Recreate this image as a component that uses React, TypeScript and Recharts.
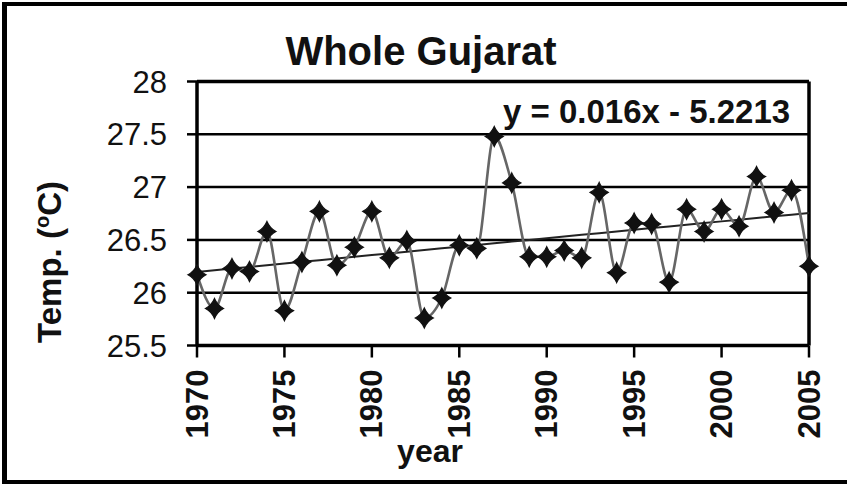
import React from "react"
import { ComposedChart, Line, XAxis, YAxis, CartesianGrid, ReferenceLine } from "recharts"

const years = [
  1970, 1971, 1972, 1973, 1974, 1975, 1976, 1977, 1978, 1979, 1980, 1981,
  1982, 1983, 1984, 1985, 1986, 1987, 1988, 1989, 1990, 1991, 1992, 1993,
  1994, 1995, 1996, 1997, 1998, 1999, 2000, 2001, 2002, 2003, 2004, 2005,
]
const temps = [
  26.17, 25.85, 26.23, 26.2, 26.58, 25.83, 26.29, 26.77, 26.26, 26.43, 26.77, 26.33,
  26.49, 25.76, 25.95, 26.45, 26.42, 27.48, 27.04, 26.34, 26.34, 26.4, 26.33, 26.95,
  26.19, 26.66, 26.65, 26.1, 26.79, 26.58, 26.79, 26.63, 27.1, 26.76, 26.97, 26.25,
]
const xTicks = [1970, 1975, 1980, 1985, 1990, 1995, 2000, 2005]
const yTicks = [25.5, 26, 26.5, 27, 27.5, 28]

const title = "Whole Gujarat"
const equation = "y = 0.016x - 5.2213"

// least squares trend line
const n = years.length
const mx = years.reduce((a, b) => a + b, 0) / n
const my = temps.reduce((a, b) => a + b, 0) / n
let sxy = 0
let sxx = 0
years.forEach((yr, i) => {
  sxy += (yr - mx) * (temps[i] - my)
  sxx += (yr - mx) * (yr - mx)
})
const slope = sxy / sxx
const icpt = my - slope * mx

const data = years.map((yr, i) => ({
  year: yr,
  temp: temps[i],
  trend: icpt + slope * yr,
}))

const FONT = "'Liberation Sans', Arial, sans-serif"

const Diamond = (props: any) => {
  const { cx, cy } = props
  if (cx == null || cy == null) return null
  return (
    <path
      d={`M${cx},${cy - 10} Q${cx + 3},${cy - 3} ${cx + 9},${cy} Q${cx + 3},${cy + 3} ${cx},${cy + 10} Q${cx - 3},${cy + 3} ${cx - 9},${cy} Q${cx - 3},${cy - 3} ${cx},${cy - 10} Z`}
      fill="#111"
      stroke="#111"
      strokeWidth={1.2}
    />
  )
}

const YearTick = (props: any) => {
  const { x, y, payload } = props
  return (
    <text
      transform={`translate(${x},${y + 2}) rotate(-90)`}
      textAnchor="end"
      dominantBaseline="central"
      fontFamily={FONT}
      fontWeight="bold"
      fontSize={31}
      fill="#111"
    >
      {payload.value}
    </text>
  )
}

export default function App() {
  return (
    <div style={{ position: "absolute", left: 0, top: 0, width: 847, height: 484, background: "#fff" }}>
      <ComposedChart
        width={847}
        height={484}
        data={data}
        margin={{ top: 81.5, right: 38, bottom: 0, left: 0 }}
      >
        <CartesianGrid horizontal vertical={false} stroke="#000" strokeWidth={2.5} />
        <XAxis
          dataKey="year"
          type="number"
          domain={[1970, 2005]}
          ticks={xTicks}
          height={138.5}
          axisLine={{ stroke: "#000", strokeWidth: 3.5 }}
          tickLine={{ stroke: "#000", strokeWidth: 2.5 }}
          tickSize={12}
          tickMargin={10}
          tick={<YearTick />}
          interval={0}
        />
        <YAxis
          type="number"
          domain={[25.5, 28]}
          ticks={yTicks}
          width={197}
          axisLine={{ stroke: "#000", strokeWidth: 3.5 }}
          tickLine={{ stroke: "#000", strokeWidth: 2.5 }}
          tickSize={10}
          tickMargin={20}
          tick={{ fontSize: 31, fill: "#111", fontFamily: FONT }}
          interval={0}
        />
        <ReferenceLine y={28} stroke="#000" strokeWidth={3.5} />
        <ReferenceLine x={2005} stroke="#000" strokeWidth={3.5} />
        <Line
          dataKey="trend"
          type="linear"
          stroke="#222"
          strokeWidth={2}
          dot={false}
          isAnimationActive={false}
        />
        <Line
          dataKey="temp"
          type="monotone"
          stroke="#666"
          strokeWidth={2.6}
          dot={<Diamond />}
          isAnimationActive={false}
        />
      </ComposedChart>
      <svg
        width={847}
        height={484}
        style={{ position: "absolute", left: 0, top: 0, pointerEvents: "none" }}
      >
        <line x1={4.5} y1={2} x2={4.5} y2={484} stroke="#000" strokeWidth={5} />
        <line x1={2} y1={4} x2={847} y2={4} stroke="#000" strokeWidth={4} />
        <line x1={2} y1={482} x2={847} y2={482} stroke="#000" strokeWidth={4} />
        <text x={421} y={65} textAnchor="middle" fontFamily={FONT} fontWeight="bold" fontSize={40} fill="#111">
          {title}
        </text>
        <text x={503} y={123} fontFamily={FONT} fontWeight="bold" fontSize={33} fill="#111">
          {equation}
        </text>
        <text x={430} y={462} textAnchor="middle" fontFamily={FONT} fontWeight="bold" fontSize={32} fill="#111">
          year
        </text>
        <text
          transform="translate(61,262) rotate(-90)"
          textAnchor="middle"
          fontFamily={FONT}
          fontWeight="bold"
          fontSize={33}
          fill="#111"
        >
          Temp. (
          <tspan fontSize={20} dy={-12}>o</tspan>
          <tspan dy={12}>C)</tspan>
        </text>
      </svg>
    </div>
  )
}
